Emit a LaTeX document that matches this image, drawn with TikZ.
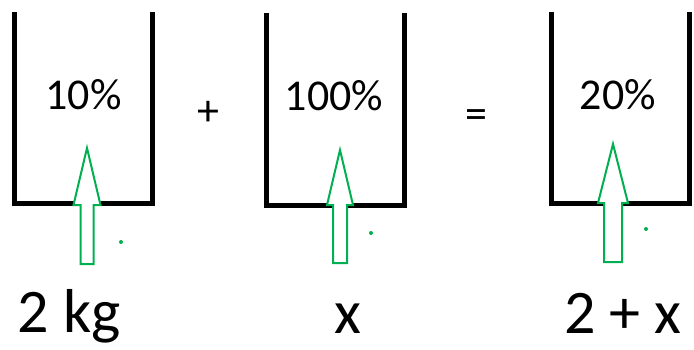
\documentclass[tikz,border=0pt]{standalone}
\usepackage{fontspec}
\setmainfont{Carlito}
\definecolor{arrgreen}{RGB}{0,176,80}
\tikzset{
  beaker/.style={line width=5pt, draw=black, line join=miter},
  blockarrow/.style={draw=arrgreen, line width=2pt, line join=miter, fill=white},
  pct/.style={font=\fontsize{44}{44}\selectfont, anchor=base, inner sep=0pt},
  amount/.style={font=\fontsize{62}{62}\selectfont, anchor=base, inner sep=0pt, text depth=0pt},
  gdot/.style={fill=arrgreen, draw=none}
}
\newcommand{\myarrow}[6]{% tipx tipy headbase x-halfhead x-halfshaft bottom
  \draw[blockarrow] (#1,#2) -- (#1+#4,#3) -- (#1+#5,#3) -- (#1+#5,#6) -- (#1-#5,#6) -- (#1-#5,#3) -- (#1-#4,#3) -- cycle;}
\begin{document}
\begin{tikzpicture}[x=1pt,y=-1pt]
\useasboundingbox (0,0) rectangle (694,349);
% beakers
\draw[beaker] (14.5,12) -- (14.5,203) -- (152,203) -- (152,12);
\draw[beaker] (266.5,13) -- (266.5,205) -- (404.5,205) -- (404.5,13);
\draw[beaker] (551.5,12) -- (551.5,203) -- (689.5,203) -- (689.5,12);
% arrows
\myarrow{87}{148}{205}{13.5}{6.5}{264}
\myarrow{340}{150}{205}{13}{7}{263}
\myarrow{613}{144}{203}{15}{9}{262}
% dots
\fill[gdot] (121,242) circle (2);
\fill[gdot] (371,233) circle (2);
\fill[gdot] (646,229) circle (2);
% texts
\node[pct] (p1) at (83.5,109) {10\%};
\node[pct] (p2) at (334,110) {100\%};
\node[pct] (p3) at (618,109) {20\%};
\node[pct] (plus) at (208,125) {+};
\node[pct] (eq) at (476,128) {=};
\node[amount] (a1) at (69,332) {2 kg};
\node[amount] (a2) at (348,333) {x};
\node[amount] (a3) at (623,333) {2 + x};
\end{tikzpicture}
\end{document}
